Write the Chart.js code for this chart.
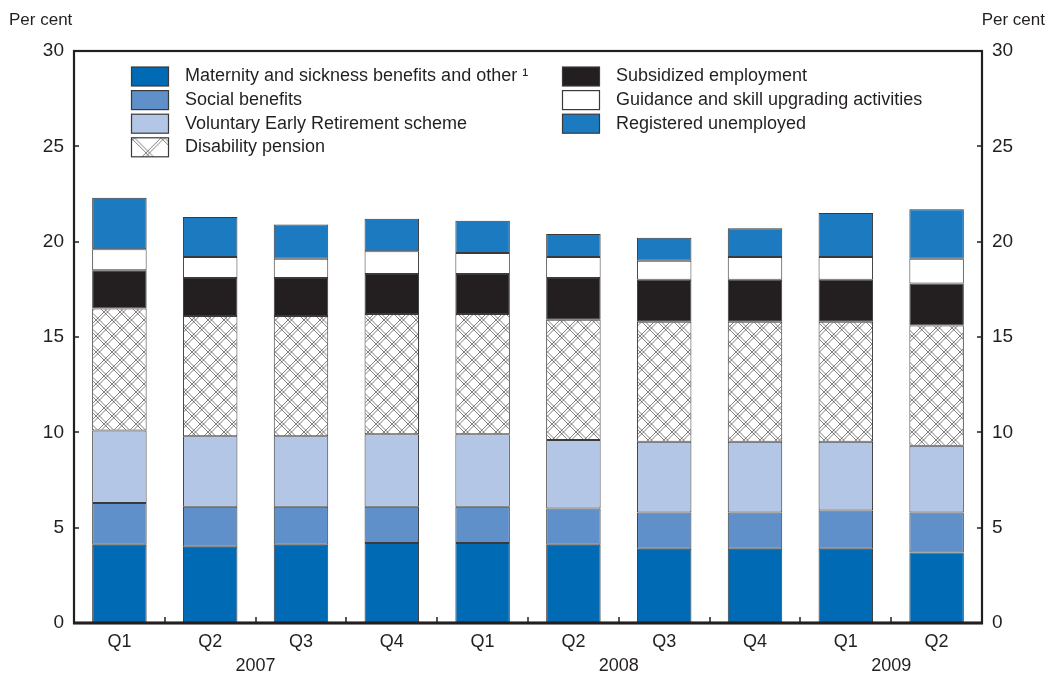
<!DOCTYPE html>
<html>
<head>
<meta charset="utf-8">
<script src="https://cdn.jsdelivr.net/npm/chart.js@4/dist/chart.umd.min.js"></script>
<style>
  html, body { margin: 0; padding: 0; background: #fff; }
  canvas { display: block; }
</style>
</head>
<body>
<canvas id="chart" width="1049" height="675"></canvas>
<script>
// --- Data ---
const quarters = ['Q1', 'Q2', 'Q3', 'Q4', 'Q1', 'Q2', 'Q3', 'Q4', 'Q1', 'Q2'];
const quarterYears = ['2007', '2007', '2007', '2007', '2008', '2008', '2008', '2008', '2009', '2009'];

const maternity = [4.1, 4.0, 4.1, 4.2, 4.2, 4.1, 3.9, 3.9, 3.9, 3.7];
const socialBenefits = [2.2, 2.1, 2.0, 1.9, 1.9, 1.9, 1.9, 1.9, 2.0, 2.1];
const earlyRetirement = [3.8, 3.7, 3.7, 3.8, 3.8, 3.6, 3.7, 3.7, 3.6, 3.5];
const disability = [6.4, 6.3, 6.3, 6.3, 6.3, 6.3, 6.3, 6.3, 6.3, 6.3];
const subsidized = [2.0, 2.0, 2.0, 2.1, 2.1, 2.2, 2.2, 2.2, 2.2, 2.2];
const guidance = [1.1, 1.1, 1.0, 1.2, 1.1, 1.1, 1.0, 1.2, 1.2, 1.3];
const unemployed = [2.7, 2.1, 1.8, 1.7, 1.7, 1.2, 1.2, 1.5, 2.3, 2.6];

const yTicks = [0, 5, 10, 15, 20, 25, 30];

const TEXT = '#231f20';
const FONT = '"Liberation Sans", Arial, Helvetica, sans-serif';

// double-line cross-hatch fill for the disability pension segments
function makeHatch(size, gap) {
    const c = document.createElement('canvas');
    c.width = size;
    c.height = size;
    const g = c.getContext('2d');
    g.fillStyle = '#fff';
    g.fillRect(0, 0, size, size);
    g.strokeStyle = '#5e5e5e';
    g.lineWidth = 0.8;
    g.beginPath();
    [-size, 0, size].forEach(o => {
        [0, gap].forEach(d => {
            g.moveTo(o + d, 0); g.lineTo(o + d + size, size);
            g.moveTo(o + d, size); g.lineTo(o + d + size, 0);
        });
    });
    g.stroke();
    return g.createPattern(c, 'repeat');
}
const hatch = makeHatch(16, 3.5);
const legendHatch = makeHatch(30, 3.5);

function series(label, data, color) {
    return {
        label: label,
        data: data,
        backgroundColor: color,
        borderColor: '#3a3a3a',
        borderWidth: 1,
        borderSkipped: false,
        barPercentage: 0.6,
        categoryPercentage: 1.0,
        stack: 'all'
    };
}

// --- Plugins: frame, inner ticks, year row, unit labels, legend ---
const framePlugin = {
    id: 'frame',
    afterDatasetsDraw(chart) {
        const { ctx, chartArea: a, scales } = chart;
        ctx.save();
        ctx.strokeStyle = TEXT;

        // inner tick marks on both value axes
        ctx.lineWidth = 1.5;
        yTicks.forEach(v => {
            const y = Math.round(scales.y.getPixelForValue(v));
            ctx.beginPath();
            ctx.moveTo(a.left, y); ctx.lineTo(a.left + 5, y);
            ctx.moveTo(a.right, y); ctx.lineTo(a.right - 5, y);
            ctx.stroke();
        });

        // ticks between categories on the bottom axis
        const step = (a.right - a.left) / quarters.length;
        for (let i = 1; i < quarters.length; i++) {
            const x = Math.round(a.left + step * i);
            ctx.beginPath();
            ctx.moveTo(x, a.bottom); ctx.lineTo(x, a.bottom - 6);
            ctx.stroke();
        }

        // box around plot area
        ctx.lineWidth = 2.2;
        ctx.strokeRect(a.left, a.top, a.right - a.left, a.bottom - a.top);
        ctx.lineWidth = 3;
        ctx.beginPath();
        ctx.moveTo(a.left - 1, a.bottom); ctx.lineTo(a.right + 1, a.bottom);
        ctx.stroke();
        ctx.restore();
    },
    afterDraw(chart) {
        const { ctx, scales } = chart;
        ctx.save();
        ctx.fillStyle = TEXT;
        ctx.textBaseline = 'middle';

        // year row under the quarter labels
        ctx.font = '18px ' + FONT;
        ctx.textAlign = 'center';
        const seen = [...new Set(quarterYears)];
        seen.forEach(yr => {
            const first = quarterYears.indexOf(yr);
            const last = quarterYears.lastIndexOf(yr);
            const x = (scales.x.getPixelForValue(first) + scales.x.getPixelForValue(last)) / 2;
            ctx.fillText(yr, x, 666);
        });

        // unit labels
        ctx.font = '17px ' + FONT;
        ctx.textAlign = 'left';
        ctx.fillText('Per cent', 9, 20);
        ctx.textAlign = 'right';
        ctx.fillText('Per cent', 1045, 20);
        ctx.restore();
    }
};

const legendPlugin = {
    id: 'boxLegend',
    afterDraw(chart) {
        const { ctx } = chart;
        const sets = chart.data.datasets;
        const cols = [{ x: 131, items: [0, 1, 2, 3] }, { x: 562, items: [4, 5, 6] }];
        ctx.save();
        ctx.font = '18px ' + FONT;
        ctx.textBaseline = 'middle';
        ctx.textAlign = 'left';
        cols.forEach(col => {
            col.items.forEach((idx, row) => {
                const ds = sets[idx];
                const cy = 76.5 + row * 23.6;
                const top = cy - 9.5;
                ctx.save();
                ctx.translate(col.x, top);
                ctx.fillStyle = ds.backgroundColor === hatch ? legendHatch : ds.backgroundColor;
                ctx.fillRect(0, 0, 37, 19);
                ctx.restore();
                ctx.strokeStyle = '#3a3a3a';
                ctx.lineWidth = 1.2;
                ctx.strokeRect(col.x + 0.5, top, 37, 19);
                ctx.fillStyle = TEXT;
                ctx.fillText(ds.label, col.x + 54, cy);
            });
        });
        ctx.restore();
    }
};

// --- Chart ---
const tickFont = { family: FONT, size: 19 };

new Chart(document.getElementById('chart'), {
    type: 'bar',
    data: {
        labels: quarters,
        datasets: [
            series('Maternity and sickness benefits and other \u00b9', maternity, '#006ab5'),
            series('Social benefits', socialBenefits, '#5f90c9'),
            series('Voluntary Early Retirement scheme', earlyRetirement, '#b3c6e6'),
            series('Disability pension', disability, hatch),
            series('Subsidized employment', subsidized, '#231f20'),
            series('Guidance and skill upgrading activities', guidance, '#ffffff'),
            series('Registered unemployed', unemployed, '#1c7ac0')
        ]
    },
    options: {
        responsive: false,
        animation: false,
        devicePixelRatio: 1,
        layout: { padding: { top: 51, left: 0, right: 0, bottom: 0 } },
        plugins: {
            legend: { display: false },
            tooltip: { enabled: false }
        },
        scales: {
            x: {
                stacked: true,
                grid: { display: false, drawTicks: false },
                border: { display: false },
                ticks: { color: TEXT, font: { family: FONT, size: 18 }, padding: 8, maxRotation: 0 },
                afterFit: s => { s.height = 52; }
            },
            y: {
                stacked: true,
                position: 'left',
                min: 0,
                max: 30,
                grid: { display: false, drawTicks: false },
                border: { display: false },
                ticks: { stepSize: 5, color: TEXT, font: tickFont, padding: 10 },
                afterFit: s => { s.width = 74; }
            },
            y2: {
                position: 'right',
                min: 0,
                max: 30,
                grid: { display: false, drawTicks: false },
                border: { display: false },
                ticks: { stepSize: 5, color: TEXT, font: tickFont, padding: 10 },
                afterFit: s => { s.width = 67; }
            }
        }
    },
    plugins: [framePlugin, legendPlugin]
});
</script>
</body>
</html>
